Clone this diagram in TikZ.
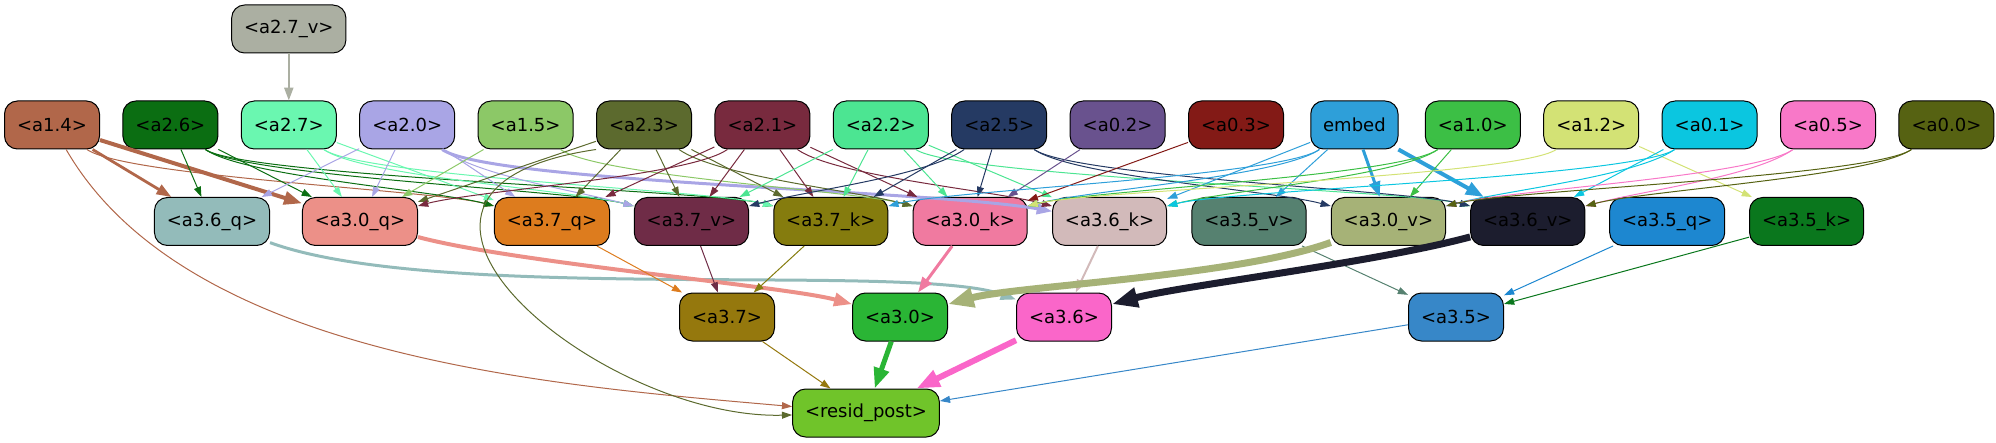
\documentclass[tikz,border=0pt]{standalone}
\usepackage{fontspec}
\setmainfont{DejaVu Sans}
\usetikzlibrary{shapes,arrows.meta}

\definecolor{col27v}{HTML}{ABAFA2}
\definecolor{col14}{HTML}{B1674A}
\definecolor{col26}{HTML}{0B6E12}
\definecolor{col27}{HTML}{6AF7B0}
\definecolor{col20}{HTML}{A9A5E5}
\definecolor{col15}{HTML}{8CC867}
\definecolor{col23}{HTML}{5C6A2E}
\definecolor{col21}{HTML}{782A3E}
\definecolor{col22}{HTML}{4CE592}
\definecolor{col25}{HTML}{253A63}
\definecolor{col02}{HTML}{69528E}
\definecolor{col03}{HTML}{831A16}
\definecolor{colemb}{HTML}{2E9FD9}
\definecolor{col10}{HTML}{3CBF45}
\definecolor{col12}{HTML}{D3E275}
\definecolor{col01}{HTML}{0BC6E0}
\definecolor{col05}{HTML}{F878C8}
\definecolor{col00}{HTML}{566212}
\definecolor{col36q}{HTML}{93BBBA}
\definecolor{col30q}{HTML}{EC9088}
\definecolor{col37q}{HTML}{DD7C1E}
\definecolor{col37v}{HTML}{6F2C47}
\definecolor{col37k}{HTML}{857C0E}
\definecolor{col30k}{HTML}{F07AA0}
\definecolor{col36k}{HTML}{D2BABA}
\definecolor{col35v}{HTML}{568170}
\definecolor{col30v}{HTML}{A6B277}
\definecolor{col36v}{HTML}{1C1D2E}
\definecolor{col35q}{HTML}{1D87D0}
\definecolor{col35k}{HTML}{0A771D}
\definecolor{col37}{HTML}{95780D}
\definecolor{col30}{HTML}{2AB535}
\definecolor{col36}{HTML}{FA66C9}
\definecolor{col35}{HTML}{3787C8}
\definecolor{colres}{HTML}{70C42A}

\begin{document}
\begin{tikzpicture}[x=1pt, y=1pt, node distance=59.2pt,
        >={Triangle[length=3.8pt 2.6, width=2.5pt 2]},
        blk/.style={rectangle, rounded corners=6.5pt, draw, line width=0.5pt,
            minimum width=47.5pt, minimum height=24pt, inner xsep=6.2pt,
            font=\fontsize{9}{11}\selectfont},
        ln/.style={->, line width=0.5pt}]
        \useasboundingbox (0,0) rectangle (998,-221.5);

        % first row
        \node (a14) [blk, fill=col14] at (26,-62.5) {<a1.4>};
        \node (a26) [blk, fill=col26, right of=a14] {<a2.6>};
        \node (a27) [blk, fill=col27, right of=a26] {<a2.7>};
        \node (a20) [blk, fill=col20, right of=a27] {<a2.0>};
        \node (a15) [blk, fill=col15, right of=a20] {<a1.5>};
        \node (a23) [blk, fill=col23, right of=a15] {<a2.3>};
        \node (a21) [blk, fill=col21, right of=a23] {<a2.1>};
        \node (a22) [blk, fill=col22, right of=a21] {<a2.2>};
        \node (a25) [blk, fill=col25, right of=a22] {<a2.5>};
        \node (a02) [blk, fill=col02, right of=a25] {<a0.2>};
        \node (a03) [blk, fill=col03, right of=a02] {<a0.3>};
        \node (emb) [blk, fill=colemb, right of=a03, minimum width=0pt] {embed};
        \node (a10) [blk, fill=col10, right of=emb] {<a1.0>};
        \node (a12) [blk, fill=col12, right of=a10] {<a1.2>};
        \node (a01) [blk, fill=col01, right of=a12] {<a0.1>};
        \node (a05) [blk, fill=col05, right of=a01] {<a0.5>};
        \node (a00) [blk, fill=col00, right of=a05] {<a0.0>};
        \node (a27v) [blk, fill=col27v, above of=a27, node distance=48pt] {<a2.7\_v>};

        % second row
        \node (a36q) [blk, fill=col36q] at (106,-110.75) {<a3.6\_q>};
        \node (a30q) [blk, fill=col30q, right of=a36q, node distance=74pt] {<a3.0\_q>};
        \node (a37q) [blk, fill=col37q, right of=a30q, node distance=96pt] {<a3.7\_q>};
        \node (a37v) [blk, fill=col37v, right of=a37q, node distance=69.7pt] {<a3.7\_v>};
        \node (a37k) [blk, fill=col37k, right of=a37v, node distance=69.7pt] {<a3.7\_k>};
        \node (a30k) [blk, fill=col30k, right of=a37k, node distance=69.7pt] {<a3.0\_k>};
        \node (a36k) [blk, fill=col36k, right of=a30k, node distance=69.7pt] {<a3.6\_k>};
        \node (a35v) [blk, fill=col35v, right of=a36k, node distance=69.7pt] {<a3.5\_v>};
        \node (a30v) [blk, fill=col30v, right of=a35v, node distance=69.7pt] {<a3.0\_v>};
        \node (a36v) [blk, fill=col36v, right of=a30v, node distance=69.7pt] {<a3.6\_v>};
        \node (a35q) [blk, fill=col35q, right of=a36v, node distance=69.7pt] {<a3.5\_q>};
        \node (a35k) [blk, fill=col35k, right of=a35q, node distance=69.7pt] {<a3.5\_k>};

        % third row and output
        \node (a37) [blk, fill=col37] at (363.5,-158.5) {<a3.7>};
        \node (a30) [blk, fill=col30, right of=a37, node distance=86.5pt] {<a3.0>};
        \node (a36) [blk, fill=col36, right of=a30, node distance=82pt] {<a3.6>};
        \node (a35) [blk, fill=col35, right of=a36, node distance=196pt] {<a3.5>};
        \node (resid) [blk, fill=colres] at (433,-206.5) {<resid\_post>};

        \draw [ln, col27v, line width=1pt] (a27v) -- (a27);

        % first row to second row
        \draw [ln, col14, line width=1.4pt] (a14) -- (a36q);
        \draw [ln, col14, line width=2pt] (a14) -- (a30q);
        \draw [ln, col14] (a14) .. controls +(-35:45) and +(165:60) .. (a37q);
        \draw [ln, col26] (a26) -- (a36q);
        \draw [ln, col26] (a26) -- (a30q);
        \draw [ln, col26] (a26) .. controls +(-35:45) and +(165:60) .. (a37q);
        \draw [ln, col26] (a26) .. controls +(-35:45) and +(165:60) .. (a37v);
        \draw [ln, col26] (a26) .. controls +(-35:45) and +(165:60) .. (a37k);
        \draw [ln, col27] (a27) -- (a30q);
        \draw [ln, col27] (a27) -- (a37q);
        \draw [ln, col27] (a27) .. controls +(-35:45) and +(165:60) .. (a37v);
        \draw [ln, col27] (a27) .. controls +(-35:45) and +(165:60) .. (a37k);
        \draw [ln, col20] (a20) -- (a36q);
        \draw [ln, col20] (a20) -- (a30q);
        \draw [ln, col20] (a20) -- (a37q);
        \draw [ln, col20] (a20) .. controls +(-35:45) and +(165:60) .. (a37v);
        \draw [ln, col20, line width=1.5pt] (a20) .. controls +(-35:50) and +(170:90) .. (a36k);
        \draw [ln, col15] (a15) -- (a30q);
        \draw [ln, col15] (a15) .. controls +(-35:45) and +(165:60) .. (a30k);
        \draw [ln, col23] (a23) -- (a30q);
        \draw [ln, col23] (a23) -- (a37q);
        \draw [ln, col23] (a23) -- (a37v);
        \draw [ln, col23] (a23) -- (a37k);
        \draw [ln, col23] (a23) .. controls +(-35:45) and +(165:60) .. (a30k);
        \draw [ln, col21] (a21) .. controls +(215:45) and +(15:60) .. (a30q);
        \draw [ln, col21] (a21) -- (a37q);
        \draw [ln, col21] (a21) -- (a37v);
        \draw [ln, col21] (a21) -- (a37k);
        \draw [ln, col21] (a21) -- (a30k);
        \draw [ln, col21] (a21) .. controls +(-35:45) and +(165:60) .. (a36k);
        \draw [ln, col22] (a22) -- (a37v);
        \draw [ln, col22] (a22) -- (a37k);
        \draw [ln, col22] (a22) -- (a30k);
        \draw [ln, col22] (a22) -- (a36k);
        \draw [ln, col22] (a22) .. controls +(-35:45) and +(165:60) .. (a36v);
        \draw [ln, col25] (a25) .. controls +(215:45) and +(15:60) .. (a37v);
        \draw [ln, col25] (a25) -- (a37k);
        \draw [ln, col25] (a25) -- (a30k);
        \draw [ln, col25] (a25) .. controls +(-35:45) and +(165:60) .. (a30v);
        \draw [ln, col25] (a25) .. controls +(-35:45) and +(165:60) .. (a36v);
        \draw [ln, col02] (a02) -- (a30k);
        \draw [ln, col03] (a03) -- (a30k);
        \draw [ln, colemb] (emb) .. controls +(215:45) and +(15:60) .. (a37k);
        \draw [ln, colemb] (emb) .. controls +(215:45) and +(15:60) .. (a30k);
        \draw [ln, colemb] (emb) -- (a36k);
        \draw [ln, colemb] (emb) -- (a35v);
        \draw [ln, colemb, line width=1.5pt] (emb) -- (a30v);
        \draw [ln, colemb, line width=2pt] (emb) -- (a36v);
        \draw [ln, col10] (a10) .. controls +(215:45) and +(15:60) .. (a30k);
        \draw [ln, col10] (a10) .. controls +(215:45) and +(15:60) .. (a36k);
        \draw [ln, col10] (a10) -- (a30v);
        \draw [ln, col12] (a12) .. controls +(215:45) and +(15:60) .. (a30k);
        \draw [ln, col12] (a12) -- (a35k);
        \draw [ln, col01] (a01) .. controls +(215:45) and +(15:60) .. (a36k);
        \draw [ln, col01] (a01) .. controls +(215:45) and +(15:60) .. (a30v);
        \draw [ln, col01] (a01) -- (a36v);
        \draw [ln, col05] (a05) .. controls +(215:45) and +(15:60) .. (a30v);
        \draw [ln, col05] (a05) .. controls +(215:45) and +(15:60) .. (a36v);
        \draw [ln, col00] (a00) .. controls +(215:45) and +(15:60) .. (a30v);
        \draw [ln, col00] (a00) .. controls +(215:45) and +(15:60) .. (a36v);

        % second row to third row
        \draw [ln, col36q, line width=1.5pt] (a36q) .. controls +(-20:120) and +(160:80) .. (a36);
        \draw [ln, col30q, line width=2pt] (a30q) .. controls +(-15:80) and +(165:60) .. (a30);
        \draw [ln, col37q] (a37q) -- (a37);
        \draw [ln, col37v] (a37v) -- (a37);
        \draw [ln, col37k] (a37k) -- (a37);
        \draw [ln, col30k, line width=1.5pt] (a30k) -- (a30);
        \draw [ln, col36k, line width=1pt] (a36k) -- (a36);
        \draw [ln, col35v] (a35v) -- (a35);
        \draw [ln, col30v, line width=3.5pt] (a30v) .. controls +(200:80) and +(15:60) .. (a30);
        \draw [ln, col36v, line width=3.5pt] (a36v) .. controls +(195:80) and +(15:60) .. (a36);
        \draw [ln, col35q] (a35q) -- (a35);
        \draw [ln, col35k] (a35k) -- (a35);

        % into the output
        \draw [ln, col37] (a37) -- (resid);
        \draw [ln, col30, line width=2.5pt] (a30) -- (resid);
        \draw [ln, col36, line width=3pt] (a36) -- (resid);
        \draw [ln, col35] (a35) -- (resid);
        \draw [ln, col14] (a14) to[out=-60, in=175, looseness=0.8] (resid);
        \draw [ln, col23] (a23.south west) .. controls (160,-95) and (300,-210) .. (resid);
    \end{tikzpicture}
\end{document}
